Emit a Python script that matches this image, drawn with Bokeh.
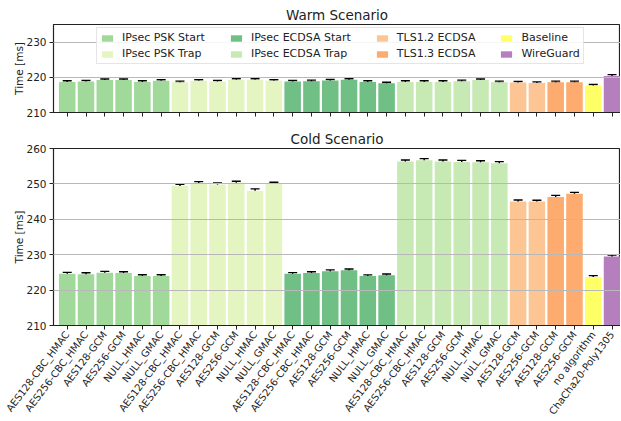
from bokeh.plotting import figure
from bokeh.models import ColumnDataSource, Whisker, TeeHead, FixedTicker, Range1d, Legend, LegendItem
from bokeh.layouts import column
from bokeh.embed import file_html
from bokeh.resources import INLINE
import math

labels = ["AES128-CBC_HMAC", "AES256-CBC_HMAC", "AES128-GCM", "AES256-GCM", "NULL_HMAC", "NULL_GMAC",
          "AES128-CBC_HMAC", "AES256-CBC_HMAC", "AES128-GCM", "AES256-GCM", "NULL_HMAC", "NULL_GMAC",
          "AES128-CBC_HMAC", "AES256-CBC_HMAC", "AES128-GCM", "AES256-GCM", "NULL_HMAC", "NULL_GMAC",
          "AES128-CBC_HMAC", "AES256-CBC_HMAC", "AES128-GCM", "AES256-GCM", "NULL_HMAC", "NULL_GMAC",
          "AES128-GCM", "AES256-GCM", "AES128-GCM", "AES256-GCM", "no algorithm", "ChaCha20-Poly1305"]

groups = ["IPsec PSK Start", "IPsec PSK Trap", "IPsec ECDSA Start", "IPsec ECDSA Trap",
          "TLS1.2 ECDSA", "TLS1.3 ECDSA", "Baseline", "WireGuard"]
group_sizes = [6, 6, 6, 6, 2, 2, 1, 1]
group_colors = ["#a1d99b", "#e4f5c1", "#70bf85", "#c7e9b4", "#fdc593", "#fdab6e", "#ffff66", "#b57fbd"]

warm = [218.7, 218.8, 219.2, 219.2, 218.7, 219.0,
        218.6, 219.0, 218.8, 219.3, 219.3, 219.0,
        218.8, 218.9, 219.1, 219.3, 218.7, 218.3,
        218.7, 218.7, 218.7, 218.9, 219.2, 218.6,
        218.5, 218.4, 218.6, 218.6, 217.7, 220.4]
warm_err = [0.3] * 29 + [0.35]

cold = [224.6, 224.5, 224.9, 224.8, 224.0, 224.0,
        249.4, 250.2, 249.8, 250.3, 248.1, 250.0,
        224.6, 224.8, 225.3, 225.6, 224.0, 224.2,
        256.3, 256.7, 256.3, 256.2, 256.1, 255.8,
        245.0, 245.0, 246.3, 247.2, 223.7, 229.5]
cold_err = [0.4, 0.4, 0.4, 0.4, 0.35, 0.35,
            0.5, 0.45, 0.45, 0.45, 0.5, 0.45,
            0.35, 0.4, 0.4, 0.35, 0.3, 0.35,
            0.45, 0.45, 0.45, 0.45, 0.45, 0.5,
            0.45, 0.4, 0.45, 0.4, 0.4, 0.4]

FONT = "DejaVu Sans"
x_all = list(range(len(labels)))
legend_order = [0, 2, 4, 6, 1, 3, 5, 7]
legend_pad = [6, 6, 6, 6, 6, 6, 0, 0]


def make_fig(title, vals, errs, yr, yticks, show_labels, legend, frame_h, top_b, bottom_b):
    p = figure(frame_width=567, frame_height=frame_h, output_backend="svg", toolbar_location=None,
               x_range=Range1d(-0.73, 29.45), y_range=Range1d(*yr),
               min_border_left=53, min_border_right=0, min_border_top=top_b, min_border_bottom=bottom_b)
    p.title.text = title
    p.title.align = "center"
    p.title.text_font = FONT
    p.title.text_font_size = "13.5px"
    p.title.text_font_style = "normal"
    p.title.text_color = "#222222"
    p.title.standoff = 4
    p.outline_line_color = "#222222"
    p.outline_line_width = 1.2
    p.xgrid.visible = False
    p.ygrid.grid_line_color = "#b8b8b8"
    p.ygrid.grid_line_width = 1.2
    p.ygrid.level = "guide"
    p.background_fill_color = "white"

    start = 0
    items = []
    for gi, (g, n, c) in enumerate(zip(groups, group_sizes, group_colors)):
        xs = x_all[start:start + n]
        src = ColumnDataSource(dict(x=xs, top=vals[start:start + n]))
        r = p.vbar(x="x", top="top", bottom=yr[0], width=0.88, source=src,
                   fill_color=c, line_color=None)
        lab = g + "\u00a0" * legend_pad[gi]
        items.append(LegendItem(label=lab, renderers=[r]))
        start += n

    esrc = ColumnDataSource(dict(x=x_all,
                                 lo=[v - e for v, e in zip(vals, errs)],
                                 hi=[v + e for v, e in zip(vals, errs)]))
    w = Whisker(base="x", lower="lo", upper="hi", source=esrc, line_color="black", line_width=1.4,
                upper_head=TeeHead(size=9, line_color="black", line_width=1.4),
                lower_head=TeeHead(size=9, line_color="black", line_width=1.4))
    p.add_layout(w)

    p.xaxis.ticker = FixedTicker(ticks=x_all)
    p.xaxis.minor_tick_line_color = None
    p.xaxis.major_tick_in = 0
    p.xaxis.major_tick_out = 4
    p.xaxis.axis_line_color = "#222222"
    p.xaxis.major_tick_line_color = "#222222"
    if show_labels:
        p.xaxis.major_label_overrides = {i: l for i, l in enumerate(labels)}
        p.xaxis.major_label_orientation = math.radians(53)
        p.xaxis.major_label_text_font = FONT
        p.xaxis.major_label_text_font_size = "10px"
        p.xaxis.major_label_text_color = "#222222"
        p.xaxis.major_label_standoff = 3
    else:
        p.xaxis.major_label_overrides = {i: "" for i in x_all}
        p.xaxis.major_label_standoff = 0

    p.yaxis.ticker = FixedTicker(ticks=yticks)
    p.yaxis.minor_tick_line_color = None
    p.yaxis.major_tick_in = 0
    p.yaxis.major_tick_out = 4
    p.yaxis.axis_line_color = "#222222"
    p.yaxis.major_tick_line_color = "#222222"
    p.yaxis.major_label_text_font = FONT
    p.yaxis.major_label_text_font_size = "10.5px"
    p.yaxis.major_label_text_color = "#222222"
    p.yaxis.major_label_standoff = 3
    p.yaxis.axis_label = "Time [ms]"
    p.yaxis.axis_label_text_font = FONT
    p.yaxis.axis_label_text_font_size = "10.5px"
    p.yaxis.axis_label_text_font_style = "normal"
    p.yaxis.axis_label_text_color = "#222222"
    p.yaxis.axis_label_standoff = -2

    if legend:
        lg = Legend(items=[items[i] for i in legend_order], location=(43, 48),
                    orientation="horizontal", ncols=4)
        lg.label_text_font = FONT
        lg.label_text_font_size = "11px"
        lg.label_text_color = "#222222"
        lg.glyph_width = 14
        lg.glyph_height = 8
        lg.label_standoff = 8
        lg.spacing = 3
        lg.padding = 3
        lg.margin = 0
        lg.label_height = 11
        lg.border_line_color = "#cccccc"
        lg.border_line_width = 1
        lg.background_fill_alpha = 0.85
        lg.item_background_fill_alpha = 0
        p.add_layout(lg, "center")
    return p


p1 = make_fig("Warm Scenario", warm, warm_err, (210, 235), [210, 220, 230], False, True, 88, 24, 13)
p2 = make_fig("Cold Scenario", cold, cold_err, (210, 260), [210, 220, 230, 240, 250, 260], True, False, 177, 23, 0)

layout = column(p1, p2)
open("out.html", "w").write(file_html(layout, INLINE))
